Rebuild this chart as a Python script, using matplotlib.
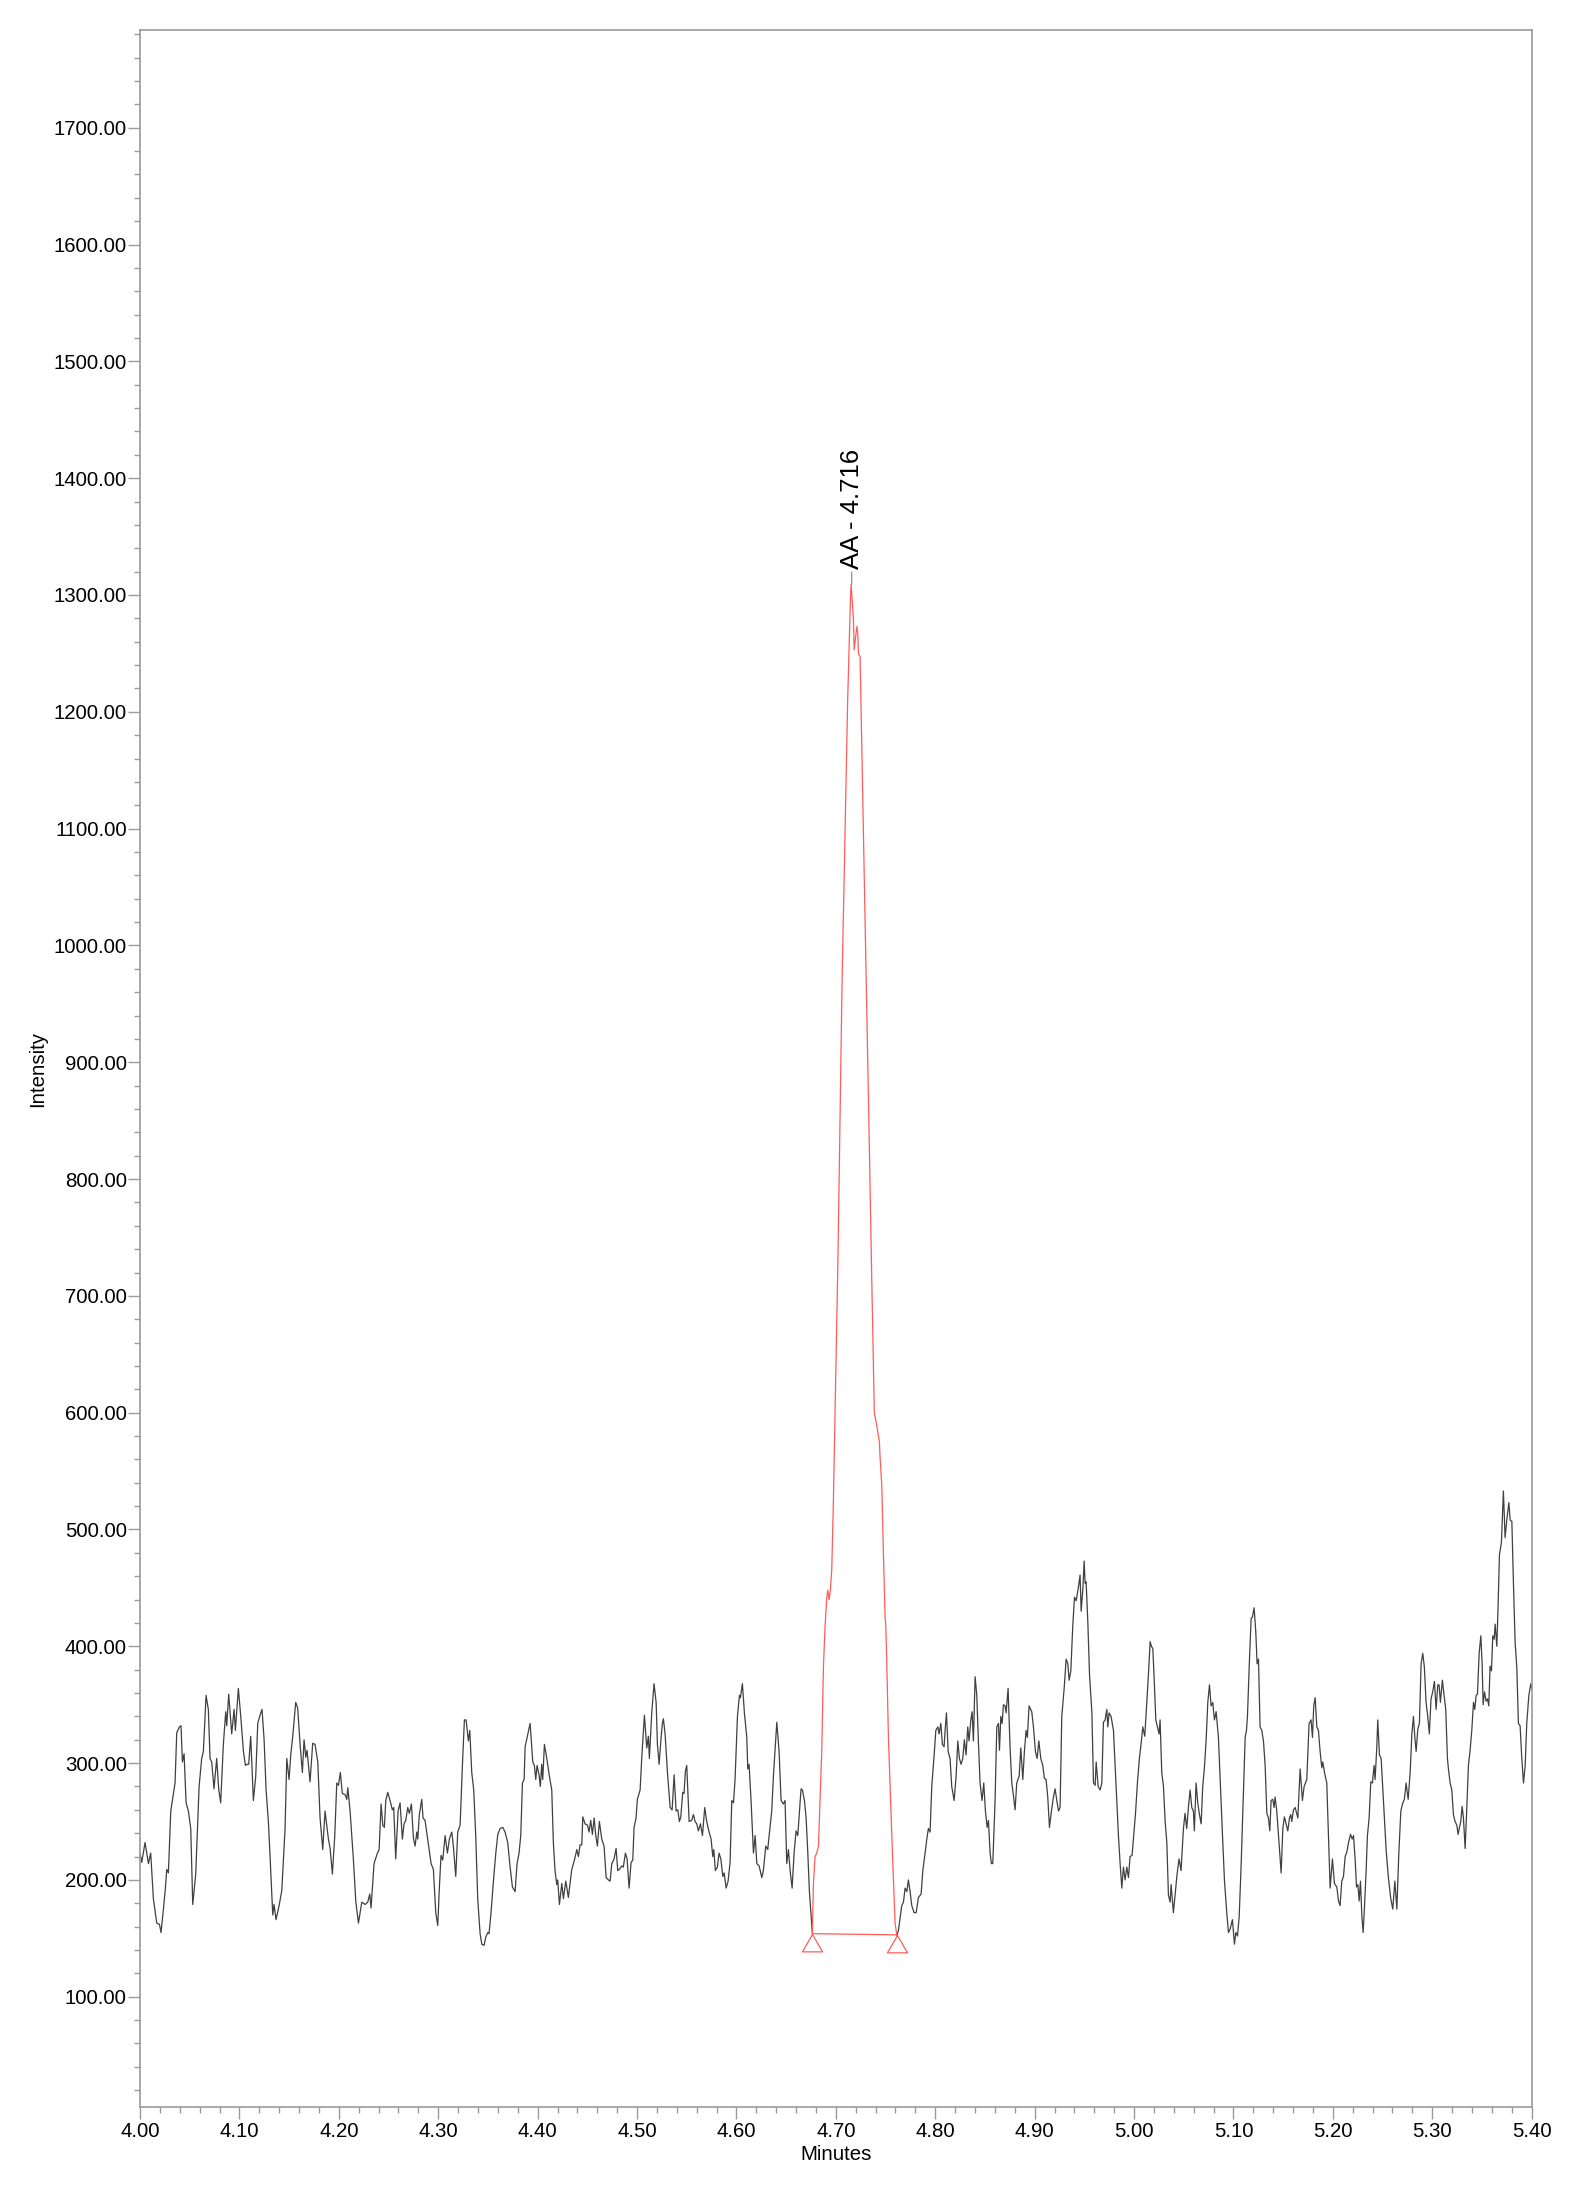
import numpy as np
import matplotlib
matplotlib.use("Agg")
import matplotlib.pyplot as plt
from matplotlib.path import Path
from matplotlib.ticker import MultipleLocator, FormatStrFormatter

plt.rcParams['font.family'] = ['Liberation Sans', 'DejaVu Sans']

# chromatogram trace (minutes, intensity)
trace_before_t = [
    4.0000, 4.0017, 4.0050, 4.0084, 4.0107, 4.0134, 4.0168, 4.0195, 4.0211, 4.0235,
    4.0255, 4.0268, 4.0285, 4.0309, 4.0352, 4.0369, 4.0396, 4.0412, 4.0426, 4.0443,
    4.0463, 4.0486, 4.0510, 4.0530, 4.0560, 4.0594, 4.0620, 4.0637, 4.0664, 4.0687,
    4.0704, 4.0721, 4.0744, 4.0771, 4.0791, 4.0811, 4.0838, 4.0862, 4.0872, 4.0892,
    4.0922, 4.0946, 4.0959, 4.0989, 4.1013, 4.1040, 4.1060, 4.1073, 4.1093, 4.1113,
    4.1140, 4.1164, 4.1184, 4.1207, 4.1227, 4.1248, 4.1268, 4.1291, 4.1308, 4.1335,
    4.1348, 4.1368, 4.1399, 4.1426, 4.1459, 4.1476, 4.1499, 4.1516, 4.1536, 4.1566,
    4.1586, 4.1610, 4.1633, 4.1650, 4.1667, 4.1680, 4.1710, 4.1737, 4.1761, 4.1788,
    4.1811, 4.1838, 4.1861, 4.1895, 4.1912, 4.1935, 4.1959, 4.1979, 4.1996,
    4.2015, 4.2035, 4.2063, 4.2080, 4.2090, 4.2113, 4.2146, 4.2170, 4.2197, 4.2231,
    4.2264, 4.2291, 4.2311, 4.2324, 4.2354, 4.2388, 4.2405, 4.2425, 4.2442, 4.2458,
    4.2472, 4.2492, 4.2515, 4.2538, 4.2552, 4.2572, 4.2596, 4.2616, 4.2639, 4.2656,
    4.2673, 4.2693, 4.2709, 4.2730, 4.2750, 4.2767, 4.2784, 4.2794, 4.2810, 4.2834,
    4.2847, 4.2867, 4.2901, 4.2928, 4.2951, 4.2975, 4.2995, 4.3011, 4.3028, 4.3045,
    4.3069, 4.3092, 4.3112, 4.3136, 4.3152, 4.3176, 4.3196, 4.3220, 4.3243, 4.3263,
    4.3280, 4.3303, 4.3317, 4.3337, 4.3357, 4.3377, 4.3397, 4.3421, 4.3438, 4.3461,
    4.3478, 4.3498, 4.3511, 4.3531, 4.3555, 4.3579, 4.3599, 4.3622, 4.3649, 4.3672,
    4.3699, 4.3723, 4.3746, 4.3773, 4.3793, 4.3813, 4.3830, 4.3847, 4.3864, 4.3874,
    4.3901, 4.3924, 4.3951, 4.3967, 4.3981, 4.3994, 4.4014, 4.4027,
    4.4041, 4.4051, 4.4068, 4.4092, 4.4118, 4.4142, 4.4158, 4.4175, 4.4192, 4.4202,
    4.4219, 4.4243, 4.4259, 4.4283, 4.4309, 4.4343, 4.4370, 4.4394, 4.4410, 4.4427,
    4.4444, 4.4454, 4.4477, 4.4501, 4.4517, 4.4534, 4.4551, 4.4568, 4.4585, 4.4601,
    4.4621, 4.4645, 4.4668, 4.4689, 4.4712, 4.4729, 4.4746, 4.4769, 4.4789, 4.4806,
    4.4822, 4.4846, 4.4862, 4.4883, 4.4900, 4.4920, 4.4940, 4.4957, 4.4970, 4.4990,
    4.5003, 4.5031, 4.5047, 4.5074, 4.5098, 4.5114, 4.5124, 4.5148, 4.5171, 4.5192,
    4.5205, 4.5222, 4.5242, 4.5255, 4.5265, 4.5282, 4.5306, 4.5333, 4.5353, 4.5373,
    4.5393, 4.5410, 4.5426, 4.5440, 4.5460, 4.5473, 4.5486, 4.5500, 4.5524, 4.5550,
    4.5567, 4.5584, 4.5601, 4.5617, 4.5638, 4.5658, 4.5681, 4.5701, 4.5725, 4.5745,
    4.5762, 4.5772, 4.5788, 4.5808, 4.5825, 4.5843, 4.5863, 4.5876, 4.5896, 4.5916,
    4.5936, 4.5953, 4.5970, 4.5986, 4.6010, 4.6030, 4.6040, 4.6060, 4.6080,
    4.6104, 4.6114, 4.6127, 4.6147, 4.6171, 4.6188, 4.6205, 4.6228, 4.6255, 4.6271,
    4.6295, 4.6315, 4.6329, 4.6355, 4.6372, 4.6406, 4.6429, 4.6449, 4.6472, 4.6489,
    4.6506, 4.6523, 4.6540, 4.6560, 4.6580, 4.6600, 4.6617, 4.6634, 4.6650, 4.6664,
    4.6684, 4.6701, 4.6718, 4.6734, 4.6751, 4.6764,
]
trace_before_y = [
    223, 215, 232, 214, 223, 184, 163, 162, 155, 175,
    193, 209, 206, 259, 283, 326, 331, 332, 301, 308,
    266, 259, 244, 179, 205, 280, 304, 310, 358, 346,
    304, 301, 278, 304, 278, 266, 316, 344, 332, 359,
    325, 346, 328, 364, 340, 310, 298, 299, 299, 323,
    268, 289, 334, 341, 346, 320, 277, 250, 220, 170,
    179, 166, 178, 191, 244, 304, 286, 307, 323, 352,
    347, 316, 292, 320, 305, 311, 284, 317, 316, 301,
    253, 226, 259, 235, 227, 205, 238, 283, 281,
    292, 274, 273, 269, 279, 259, 218, 182, 163, 181,
    179, 181, 188, 176, 214, 223, 226, 265, 247, 245,
    268, 275, 268, 260, 262, 218, 259, 266, 235, 248,
    251, 262, 257, 265, 236, 229, 241, 235, 256, 269,
    253, 251, 230, 214, 209, 172, 161, 193, 221, 217,
    238, 223, 235, 241, 229, 203, 241, 247, 298, 337,
    337, 319, 328, 292, 277, 238, 184, 154, 145, 144,
    151, 155, 154, 172, 199, 223, 239, 244, 245, 241,
    232, 211, 194, 190, 214, 223, 238, 283, 286, 314,
    325, 334, 301, 298, 286, 298, 290, 280,
    299, 286, 316, 304, 289, 277, 232, 208, 196, 200,
    179, 197, 184, 199, 185, 209, 217, 226, 220, 230,
    230, 254, 248, 247, 241, 251, 239, 253, 238, 229,
    250, 235, 229, 202, 200, 199, 214, 218, 227, 208,
    209, 212, 211, 223, 218, 193, 215, 217, 245, 253,
    269, 277, 304, 341, 313, 323, 304, 343, 368, 352,
    316, 299, 322, 334, 338, 325, 292, 262, 260, 290,
    259, 260, 250, 254, 275, 274, 293, 298, 250, 251,
    256, 250, 248, 242, 248, 238, 262, 250, 241, 235,
    220, 226, 208, 211, 223, 218, 203, 206, 193, 199,
    215, 268, 266, 286, 340, 358, 356, 368, 343,
    322, 295, 299, 268, 223, 238, 214, 212, 202, 208,
    229, 226, 238, 259, 289, 335, 310, 268, 265, 268,
    214, 226, 208, 193, 223, 242, 238, 259, 278, 277,
    268, 253, 223, 190, 169, 154,
]

peak_t = [
    4.6764, 4.6774, 4.6791, 4.6808, 4.6825, 4.6858, 4.6875, 4.6892, 4.6909, 4.6919,
    4.6932, 4.6945, 4.6959, 4.6975, 4.6985, 4.7021, 4.7063, 4.7091, 4.7119, 4.7148,
    4.7154, 4.7177, 4.7184, 4.7211, 4.7221, 4.7227, 4.7244, 4.7290, 4.7330, 4.7360,
    4.7387, 4.7410, 4.7438, 4.7445, 4.7462, 4.7479, 4.7496, 4.7502, 4.7512, 4.7529,
    4.7563, 4.7596, 4.7613,
]
peak_y = [
    154, 196, 220, 223, 229, 310, 382, 418, 442, 448,
    440, 448, 466, 523, 568, 731, 971, 1090, 1210, 1300,
    1309, 1279, 1253, 1273, 1267, 1250, 1247, 1040, 860, 720,
    600, 590, 575, 562, 538, 478, 424, 419, 388, 322,
    238, 163, 153,
]

trace_after_t = [
    4.7613, 4.7630, 4.7646, 4.7663, 4.7680, 4.7697, 4.7714, 4.7730, 4.7747, 4.7764,
    4.7787, 4.7808, 4.7831, 4.7858, 4.7875, 4.7898, 4.7915, 4.7931, 4.7948, 4.7965,
    4.7989, 4.8006, 4.8026, 4.8039, 4.8056, 4.8072, 4.8089, 4.8099, 4.8113, 4.8130,
    4.8149, 4.8166, 4.8190, 4.8210, 4.8227, 4.8243, 4.8260, 4.8277, 4.8293, 4.8310,
    4.8327, 4.8340, 4.8358, 4.8371, 4.8384, 4.8401, 4.8418, 4.8434, 4.8451, 4.8471,
    4.8488, 4.8505, 4.8522, 4.8535, 4.8552, 4.8565, 4.8579, 4.8602, 4.8619, 4.8636,
    4.8646, 4.8660, 4.8673, 4.8686, 4.8703, 4.8713, 4.8733, 4.8753, 4.8770, 4.8787,
    4.8803, 4.8820, 4.8844, 4.8861, 4.8881, 4.8897, 4.8914, 4.8927, 4.8944, 4.8971,
    4.8988, 4.9008, 4.9025, 4.9042, 4.9062, 4.9082, 4.9098, 4.9115, 4.9132, 4.9149,
    4.9169, 4.9189, 4.9206, 4.9223, 4.9240, 4.9256, 4.9273, 4.9297, 4.9317, 4.9334,
    4.9347, 4.9364, 4.9384, 4.9401, 4.9418, 4.9441, 4.9457, 4.9468, 4.9485, 4.9498,
    4.9508, 4.9518, 4.9535, 4.9552, 4.9576, 4.9592, 4.9609, 4.9619, 4.9639, 4.9659,
    4.9676, 4.9692, 4.9709, 4.9726, 4.9736, 4.9749, 4.9769, 4.9793, 4.9810, 4.9826,
    4.9843, 4.9860, 4.9877, 4.9893, 4.9910, 4.9927, 4.9944, 4.9960, 4.9980, 4.9994,
    5.0014, 5.0034, 5.0054, 5.0074, 5.0088, 5.0108, 5.0128, 5.0145, 5.0162, 5.0175,
    5.0189, 5.0202, 5.0219, 5.0236,
    5.0252, 5.0262, 5.0279, 5.0296, 5.0313, 5.0330, 5.0346, 5.0363, 5.0373, 5.0396,
    5.0413, 5.0433, 5.0453, 5.0473, 5.0497, 5.0513, 5.0530, 5.0547, 5.0564, 5.0581,
    5.0597, 5.0607, 5.0624, 5.0641, 5.0658, 5.0675, 5.0691, 5.0708, 5.0725, 5.0742,
    5.0759, 5.0775, 5.0792, 5.0809, 5.0826, 5.0849, 5.0869, 5.0890, 5.0910, 5.0933,
    5.0950, 5.0967, 5.0990, 5.1010, 5.1024, 5.1041, 5.1058, 5.1078, 5.1098, 5.1118,
    5.1131, 5.1141, 5.1161, 5.1178, 5.1191, 5.1208, 5.1225, 5.1238, 5.1252, 5.1268,
    5.1285, 5.1302, 5.1319, 5.1336, 5.1352, 5.1366, 5.1379, 5.1396, 5.1409, 5.1419,
    5.1436, 5.1453, 5.1480, 5.1497, 5.1513, 5.1530, 5.1547, 5.1564, 5.1577, 5.1587,
    5.1604, 5.1621, 5.1648, 5.1671, 5.1694, 5.1711, 5.1738, 5.1761, 5.1781, 5.1795,
    5.1808, 5.1822, 5.1839, 5.1855, 5.1872, 5.1889, 5.1899, 5.1916, 5.1939, 5.1956,
    5.1973, 5.1996, 5.2016, 5.2040, 5.2057, 5.2073, 5.2090, 5.2107, 5.2124, 5.2141,
    5.2158, 5.2178, 5.2195, 5.2208, 5.2225, 5.2238, 5.2252, 5.2265, 5.2278, 5.2292,
    5.2305, 5.2319,
    5.2335, 5.2348, 5.2365, 5.2382, 5.2398, 5.2415, 5.2425, 5.2442, 5.2452, 5.2469,
    5.2486, 5.2503, 5.2519, 5.2536, 5.2559, 5.2583, 5.2603, 5.2624, 5.2644, 5.2664,
    5.2684, 5.2704, 5.2720, 5.2737, 5.2758, 5.2778, 5.2795, 5.2811, 5.2825, 5.2838,
    5.2855, 5.2871, 5.2888, 5.2905, 5.2921, 5.2938, 5.2955, 5.2971, 5.2988, 5.3005,
    5.3022, 5.3039, 5.3056, 5.3069, 5.3082, 5.3102, 5.3119, 5.3136, 5.3153, 5.3163,
    5.3180, 5.3197, 5.3213, 5.3230, 5.3247, 5.3260, 5.3274, 5.3287, 5.3301, 5.3314,
    5.3331, 5.3348, 5.3364, 5.3381, 5.3398, 5.3415, 5.3428, 5.3442, 5.3455, 5.3472,
    5.3489, 5.3502, 5.3512, 5.3526, 5.3542, 5.3556, 5.3569, 5.3582, 5.3596, 5.3609,
    5.3623, 5.3633, 5.3650, 5.3663, 5.3676, 5.3696, 5.3716, 5.3733, 5.3750, 5.3771,
    5.3784, 5.3801, 5.3817, 5.3834, 5.3851, 5.3867, 5.3884, 5.3901, 5.3918, 5.3935,
    5.3951, 5.3972, 5.3992, 5.4000,
]
trace_after_y = [
    152, 157, 167, 178, 181, 193, 190, 200, 190, 178,
    172, 172, 185, 188, 208, 223, 235, 244, 241, 280,
    307, 328, 331, 325, 334, 316, 314, 328, 343, 310,
    304, 280, 268, 289, 319, 304, 299, 304, 320, 307,
    331, 319, 337, 344, 319, 374, 358, 319, 283, 268,
    283, 259, 245, 251, 223, 214, 214, 268, 331, 334,
    311, 340, 334, 350, 349, 343, 364, 313, 283, 272,
    260, 283, 289, 313, 286, 310, 328, 322, 349, 344,
    331, 310, 304, 319, 304, 298, 287, 286, 271, 245,
    259, 271, 278, 268, 259, 262, 340, 364, 389, 385,
    371, 379, 418, 442, 439, 451, 461, 430, 449, 473,
    454, 455, 421, 376, 343, 283, 281, 301, 280, 277,
    283, 335, 337, 346, 331, 343, 340, 328, 298, 268,
    238, 214, 193, 211, 200, 211, 202, 220, 221, 235,
    256, 283, 304, 319, 331, 323, 352, 376, 404, 400,
    398, 373, 337, 331,
    325, 337, 292, 280, 250, 232, 187, 181, 196, 172,
    187, 205, 218, 208, 244, 257, 244, 262, 277, 262,
    259, 242, 283, 266, 256, 248, 280, 296, 319, 352,
    367, 349, 352, 337, 344, 322, 280, 238, 199, 172,
    155, 158, 166, 145, 155, 152, 169, 214, 268, 322,
    328, 340, 388, 424, 425, 433, 412, 385, 389, 331,
    328, 319, 298, 257, 253, 242, 268, 269, 262, 271,
    259, 238, 206, 244, 254, 248, 242, 253, 256, 250,
    260, 262, 253, 295, 268, 280, 286, 334, 337, 322,
    349, 356, 331, 328, 310, 296, 301, 292, 283, 238,
    193, 218, 197, 194, 182, 178, 199, 203, 220, 224,
    232, 239, 235, 238, 217, 194, 196, 182, 199, 169,
    155, 178,
    208, 238, 253, 284, 283, 298, 286, 313, 337, 307,
    304, 277, 253, 226, 202, 184, 175, 199, 175, 223,
    259, 266, 269, 283, 269, 292, 325, 340, 322, 310,
    329, 334, 385, 394, 382, 352, 340, 325, 355, 361,
    370, 346, 367, 367, 352, 371, 358, 346, 304, 295,
    283, 277, 256, 250, 247, 239, 245, 250, 263, 253,
    227, 262, 298, 311, 328, 352, 346, 358, 359, 394,
    409, 385, 350, 361, 353, 355, 349, 383, 379, 409,
    406, 419, 400, 436, 478, 489, 533, 493, 508, 523,
    508, 507, 454, 403, 382, 334, 332, 304, 283, 298,
    334, 358, 368, 364,
]

peak_time = 4.716
peak_height = 1309
peak_label = "AA - 4.716"
baseline_t = [4.6764, 4.7613]
baseline_y = [154, 153]

trace_color = '#404040'
peak_color = '#ff5c5c'
axis_color = '#9a9a9a'

fig = plt.figure(figsize=(15.79, 21.93), dpi=100)
ax = fig.add_axes([0.0887, 0.0392, 0.8813, 0.9471])

ax.plot(trace_before_t, trace_before_y, color=trace_color, lw=0.9)
ax.plot(trace_after_t, trace_after_y, color=trace_color, lw=0.9)
ax.plot(peak_t, peak_y, color=peak_color, lw=0.9)
ax.plot(baseline_t, baseline_y, color=peak_color, lw=0.9)

# open triangles hanging below the integration start / end points
tri = Path([(0, 0), (-0.58, -1), (0.58, -1), (0, 0)],
           [Path.MOVETO, Path.LINETO, Path.LINETO, Path.CLOSEPOLY])
ax.plot(baseline_t, baseline_y, ls='none', marker=tri, markersize=25,
        markerfacecolor='none', markeredgecolor=peak_color, markeredgewidth=0.9)

ax.annotate(peak_label, xy=(peak_time, peak_height), xytext=(0, 11),
            textcoords='offset points', rotation=90, ha='center', va='bottom',
            fontsize=18.5,
            arrowprops=dict(arrowstyle='-', color='gray', lw=0.8,
                            shrinkA=0, shrinkB=0))

ax.set_xlim(4.0, 5.4)
ax.set_ylim(5.6, 1783.6)
ax.xaxis.set_major_locator(MultipleLocator(0.1))
ax.xaxis.set_minor_locator(MultipleLocator(0.02))
ax.yaxis.set_major_locator(MultipleLocator(100))
ax.yaxis.set_minor_locator(MultipleLocator(20))
ax.xaxis.set_major_formatter(FormatStrFormatter('%.2f'))
ax.yaxis.set_major_formatter(FormatStrFormatter('%.2f'))
ax.set_yticks(np.arange(100, 1701, 100))

for s in ax.spines.values():
    s.set_color(axis_color)
    s.set_linewidth(1.2)
ax.tick_params(which='major', length=8.5, width=1.0, color=axis_color,
               labelsize=14.7, labelcolor='black')
ax.tick_params(which='minor', length=4.3, width=1.0, color=axis_color)
ax.tick_params(axis='x', which='major', pad=2.5)
ax.tick_params(axis='y', which='major', pad=1)

ax.set_xlabel('Minutes', fontsize=14.7, labelpad=3)
ax.set_ylabel('Intensity', fontsize=14.7, labelpad=5)

fig.savefig('out.png', dpi=100)
